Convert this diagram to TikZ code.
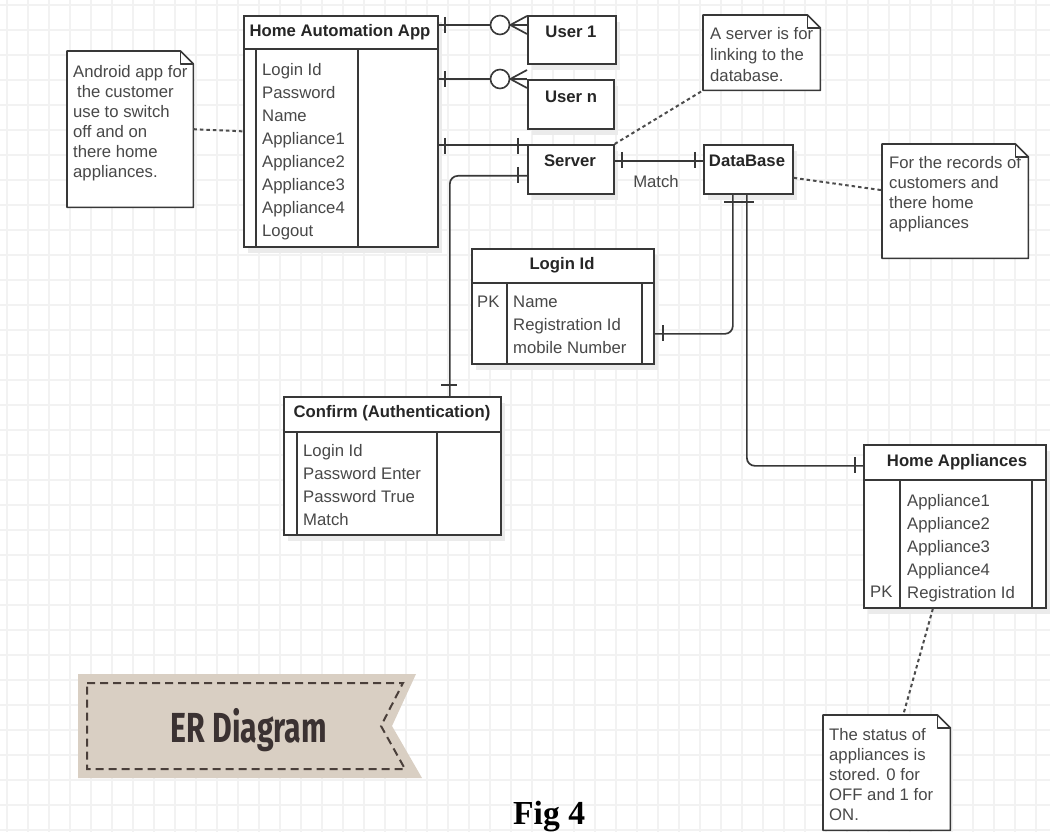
\documentclass[tikz,border=0pt]{standalone}
\usepackage{fontspec}
\setmainfont{Liberation Sans}
\newfontfamily\figfont{Liberation Serif}
\newfontfamily\banfont{Fira Sans}
\definecolor{ln}{HTML}{383838}
\definecolor{tx}{HTML}{484848}
\definecolor{hd}{HTML}{262626}
\definecolor{gridc}{HTML}{F2F2F2}
\definecolor{banc}{HTML}{D9CFC3}
\definecolor{bantx}{HTML}{3B3232}
\definecolor{bandash}{HTML}{4A3F3A}
\begin{document}
\begin{tikzpicture}[x=1pt,y=-1pt,
  ent/.style={draw=ln, line width=1.7pt, fill=white, rectangle, anchor=north west, inner sep=0pt,
    preaction={fill=black!8, transform canvas={xshift=4pt,yshift=-6pt}}},
  sep/.style={draw=ln, line width=1.7pt},
  hdr/.style={font=\fontsize{16.7}{20}\selectfont\bfseries, text=hd, inner sep=0pt},
  att/.style={font=\fontsize{16.7}{23}\selectfont, text=tx, align=left, anchor=north west, inner sep=0pt},
  notetx/.style={font=\fontsize{16.7}{20}\selectfont, text=tx, align=left, anchor=north west, inner sep=0pt},
  notebox/.style={rectangle, anchor=north west, inner sep=0pt},
  noteline/.style={draw=ln, line width=1.6pt, fill=white, line join=round},
  conn/.style={draw=ln, line width=1.7pt},
  tick/.style={draw=ln, line width=1.7pt},
  dotl/.style={draw=ln!90, line width=2pt, dash pattern=on 3.5pt off 3pt},
  gridl/.style={draw=gridc, line width=1.6pt}
]
\useasboundingbox (0,0) rectangle (1050,832);
\clip (0,0) rectangle (1050,832);
\fill[white] (0,0) rectangle (1050,832);
\foreach \x in {7,28,...,1050} \draw[gridl] (\x,0) -- (\x,832);
\foreach \y in {5,30,...,832} \draw[gridl] (0,\y) -- (1050,\y);

% ---------- entities ----------
\node[ent, minimum width=194pt, minimum height=231pt] (app) at (243,15) {};
\draw[sep] (243,49) -- (437,49);
\draw[sep] (256,49) -- (256,246);
\draw[sep] (358,49) -- (358,246);
\node[hdr] (apph) at (340,32) {Home Automation App};
\node[att] (appa) at (262,63) {Login Id\\Password\\Name\\Appliance1\\Appliance2\\Appliance3\\Appliance4\\Logout};

\node[ent, minimum width=88pt, minimum height=48pt] (user1) at (527,15) {};
\node[hdr] (user1t) at (571,32) {User 1};
\node[ent, minimum width=86pt, minimum height=49pt] (usern) at (527,79) {};
\node[hdr] (usernt) at (571,97) {User n};
\node[ent, minimum width=86pt, minimum height=49pt] (server) at (527,144) {};
\node[hdr] (servert) at (570,161) {Server};
\node[ent, minimum width=89pt, minimum height=49pt] (db) at (703,144) {};
\node[hdr] (dbt) at (747,161) {DataBase};

\node[ent, minimum width=182pt, minimum height=115pt] (login) at (471,248) {};
\draw[sep] (471,283) -- (653,283);
\draw[sep] (507,283) -- (507,363);
\draw[sep] (642,283) -- (642,363);
\node[hdr] (loginh) at (562,265) {Login Id};
\node[att] (loginpk) at (477,296) {PK};
\node[att] (logina) at (513,296) {Name\\Registration Id\\mobile Number};

\node[ent, minimum width=217pt, minimum height=138pt] (confirm) at (283,396) {};
\draw[sep] (283,432) -- (500,432);
\draw[sep] (297,432) -- (297,534);
\draw[sep] (437,432) -- (437,534);
\node[hdr] (confirmh) at (392,413) {Confirm (Authentication)};
\node[att] (confirma) at (303,444) {Login Id\\Password Enter\\Password True\\Match};

\node[ent, minimum width=182pt, minimum height=163pt] (homeapp) at (863,444) {};
\draw[sep] (863,480) -- (1045,480);
\draw[sep] (900,480) -- (900,607);
\draw[sep] (1032,480) -- (1032,607);
\node[hdr] (homeh) at (957,462) {Home Appliances};
\node[att] (homea) at (907,494) {Appliance1\\Appliance2\\Appliance3\\Appliance4\\Registration Id};
\node[att] (homepk) at (870,586) {PK};

% ---------- relationships ----------
\node[draw=ln, line width=1.6pt, circle, minimum size=19pt, inner sep=0pt, fill=white] (o1) at (500,25) {};
\node[draw=ln, line width=1.6pt, circle, minimum size=19pt, inner sep=0pt, fill=white] (o2) at (500,79) {};
\draw[conn] (app.east |- o1) -- (o1.west);
\draw[conn] (o1.east) -- (user1.west |- o1);
\draw[conn] (o1.east) -- ([yshift=9pt]user1.west |- o1);
\draw[conn] (o1.east) -- ([yshift=-9pt]user1.west |- o1);
\draw[conn] (app.east |- o2) -- (o2.west);
\draw[conn] (o2.east) -- (usern.west |- o2);
\draw[conn] (o2.east) -- ([yshift=9pt]usern.west |- o2);
\draw[conn] (o2.east) -- ([yshift=-9pt]usern.west |- o2);
\draw[tick] (445,17) -- (445,33);
\draw[tick] (445,71) -- (445,87);

\draw[conn] ([yshift=-1pt]app.east |- server.north west) -- ([yshift=-1pt]server.north west);
\draw[tick] (445,138) -- (445,154);
\draw[tick] (518,138) -- (518,154);

\draw[conn, rounded corners=8pt] ([yshift=-6.5pt]server.west) -| ([xshift=57.5pt]confirm.north);
\draw[tick] (518,167) -- (518,183);
\draw[tick] (441,385) -- (457,385);

\draw[conn] ([yshift=8.5pt]server.east) -- ([yshift=8.5pt]db.west);
\draw[tick] (622,152) -- (622,168);
\draw[tick] (695,152) -- (695,168);
\node[font=\fontsize{16.7}{20}\selectfont, text=tx, inner sep=0pt] (match) at (656,182) {Match};

\draw[conn, rounded corners=8pt] ([xshift=-15.5pt]db.south) |- ([yshift=-27.5pt]login.east);
\draw[conn, rounded corners=8pt] ([xshift=-1.5pt]db.south) |- ([yshift=60.5pt]homeapp.west);
\draw[tick] (724,202) -- (754,202);
\draw[tick] (663,325) -- (663,341);
\draw[tick] (855,457) -- (855,473);

% ---------- notes ----------
\node[notebox, minimum width=126pt, minimum height=156pt] (n1) at (67,51) {};
\draw[noteline] (n1.north west) -- ([xshift=-13pt]n1.north east) -- ([yshift=-13pt]n1.north east) -- (n1.south east) -- (n1.south west) -- cycle;
\draw[noteline, fill=none] ([xshift=-13pt]n1.north east) -- ([xshift=-13pt,yshift=-13pt]n1.north east) -- ([yshift=-13pt]n1.north east);
\node[notetx] (n1t) at (73,65) {Android app for\\\hspace*{4pt}the customer\\use to switch\\off and on\\there home\\appliances.};
\draw[dotl] (n1.east) -- (app.west);

\node[notebox, minimum width=117pt, minimum height=75pt] (ns) at (703,15) {};
\draw[noteline] (ns.north west) -- ([xshift=-13pt]ns.north east) -- ([yshift=-13pt]ns.north east) -- (ns.south east) -- (ns.south west) -- cycle;
\draw[noteline, fill=none] ([xshift=-13pt]ns.north east) -- ([xshift=-13pt,yshift=-13pt]ns.north east) -- ([yshift=-13pt]ns.north east);
\node[notetx, font=\fontsize{16.7}{21}\selectfont] (nst) at (710,27) {A server is for\\linking to the\\database.};
\draw[dotl] (server.north east) -- (ns.south west);

\node[notebox, minimum width=146pt, minimum height=114pt] (nd) at (882,144) {};
\draw[noteline] (nd.north west) -- ([xshift=-13pt]nd.north east) -- ([yshift=-13pt]nd.north east) -- (nd.south east) -- (nd.south west) -- cycle;
\draw[noteline, fill=none] ([xshift=-13pt]nd.north east) -- ([xshift=-13pt,yshift=-13pt]nd.north east) -- ([yshift=-13pt]nd.north east);
\node[notetx] (ndt) at (889,156) {For the records of\\customers and\\there home\\appliances};
\draw[dotl] ([yshift=-8.5pt]db.east) -- ([yshift=11pt]nd.west);

\node[notebox, minimum width=127pt, minimum height=115pt] (nt) at (823,715) {};
\draw[noteline] (nt.north west) -- ([xshift=-13pt]nt.north east) -- ([yshift=-13pt]nt.north east) -- (nt.south east) -- (nt.south west) -- cycle;
\draw[noteline, fill=none] ([xshift=-13pt]nt.north east) -- ([xshift=-13pt,yshift=-13pt]nt.north east) -- ([yshift=-13pt]nt.north east);
\node[notetx] (ntt) at (829,728) {The status of\\appliances is\\stored. 0 for\\OFF and 1 for\\ON.};
\draw[dotl] ([xshift=-22pt]homeapp.south) -- ([xshift=16.5pt]nt.north);

% ---------- banner ----------
\fill[banc] (78,674) -- (416,674) -- (392,726) -- (422,778) -- (78,778) -- cycle;
\draw[draw=bandash, line width=2pt, dash pattern=on 8pt off 5pt] (87,683) -- (403,683) -- (381,726) -- (405,769) -- (87,769) -- cycle;
\node[text=bantx, inner sep=0pt, font={\banfont\fontsize{42}{42}\selectfont\bfseries}] (er) at (249,730) {\scalebox{0.72}[1]{ER Diagram}};

% ---------- caption ----------
\node[anchor=base west, inner sep=0pt, font={\figfont\fontsize{33.6}{34}\selectfont\bfseries}, text=black] (fig) at (513,824) {Fig 4};
\end{tikzpicture}
\end{document}
